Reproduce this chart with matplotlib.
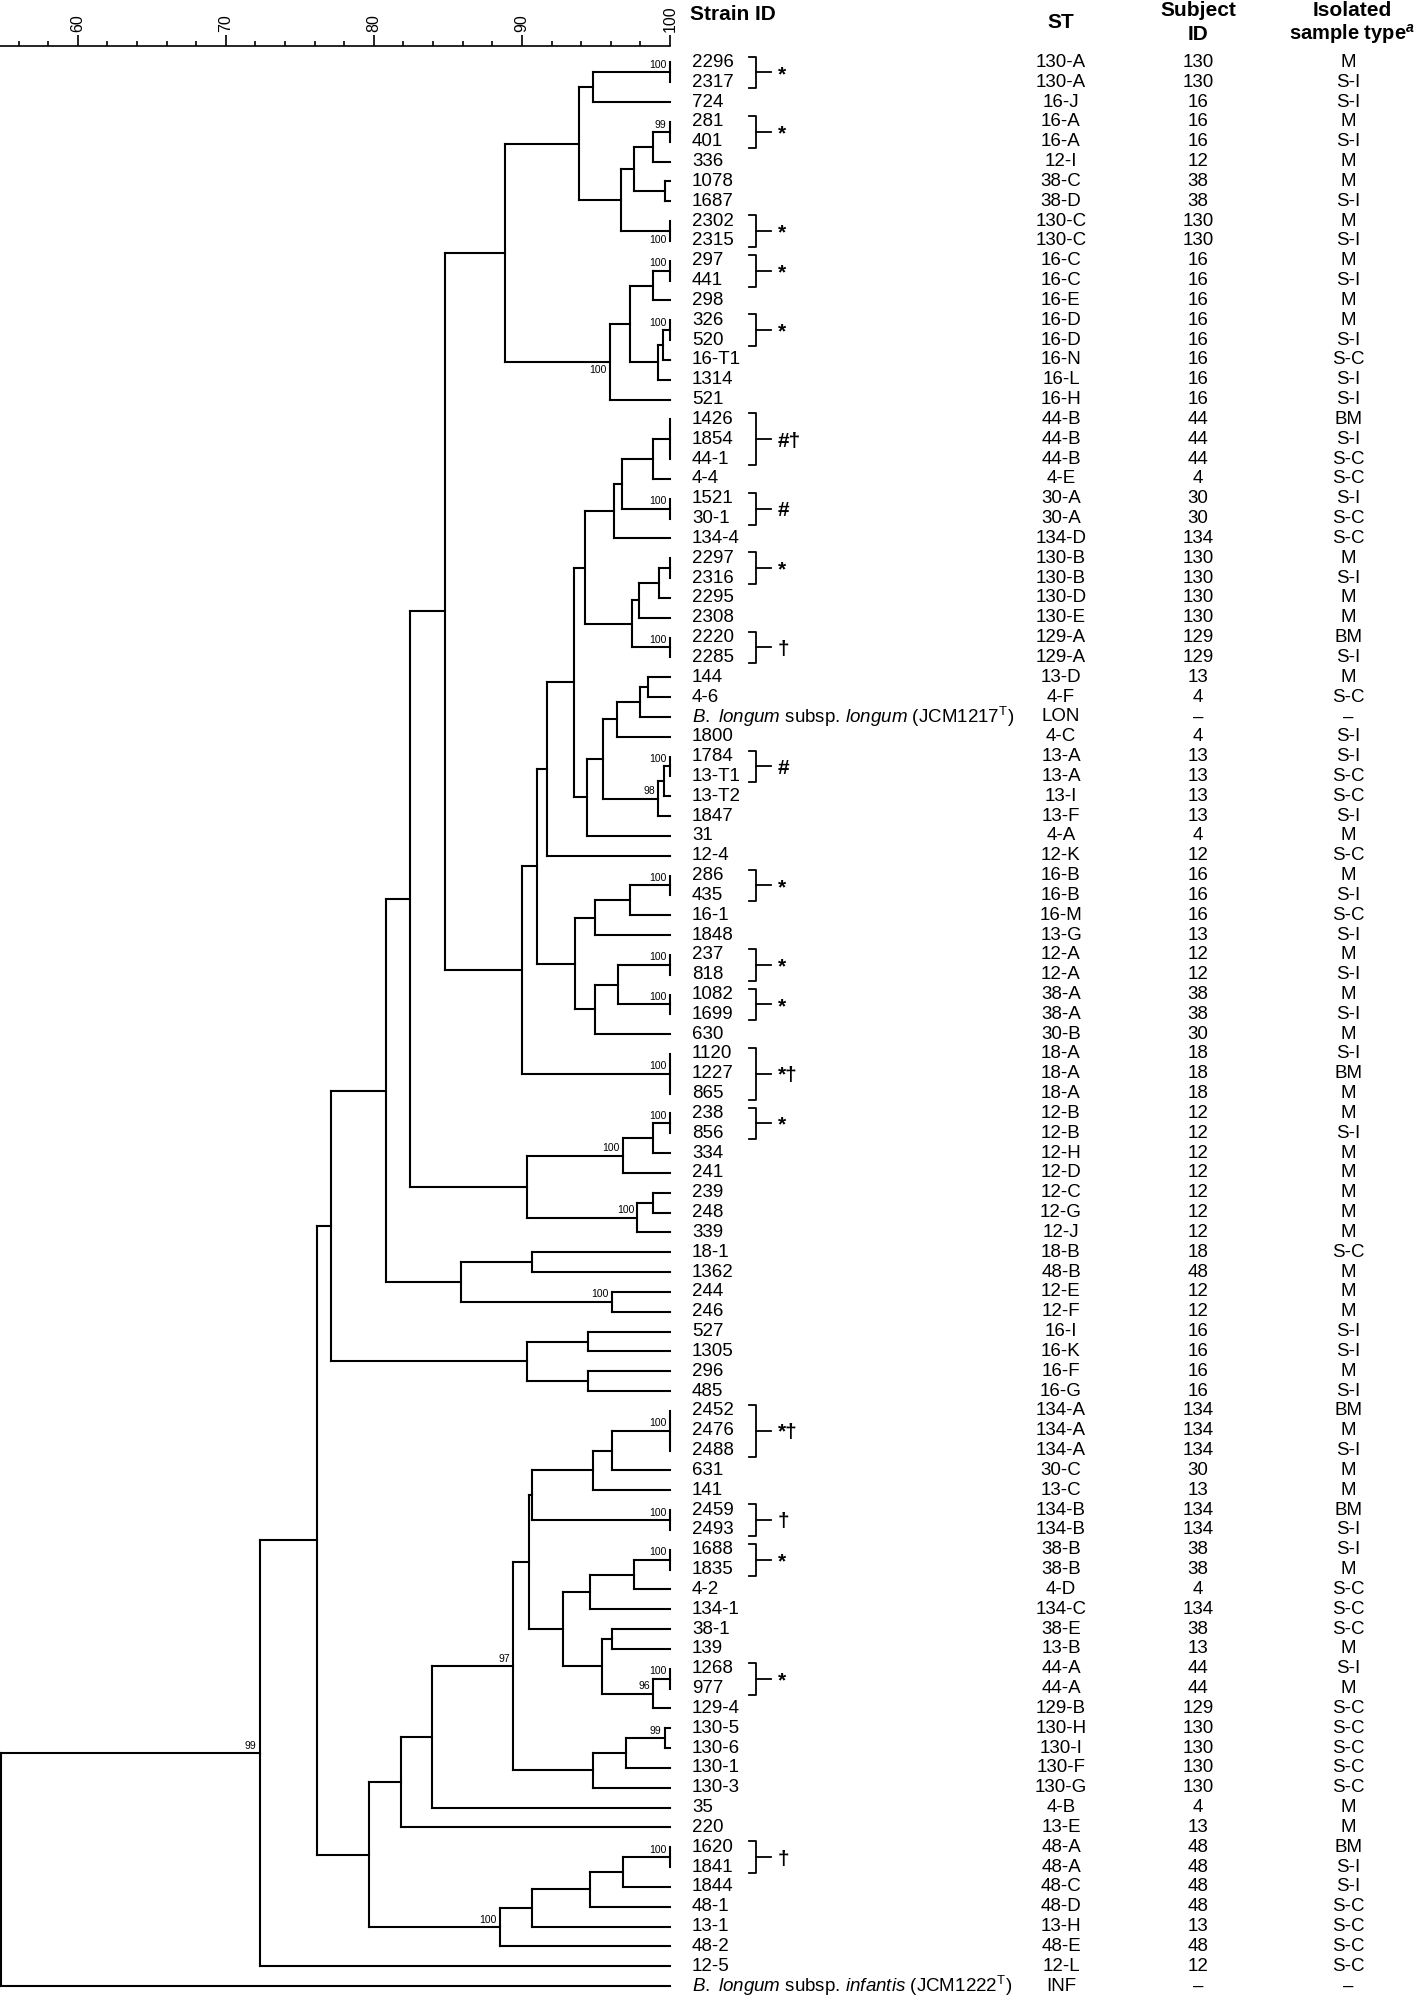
import matplotlib
matplotlib.use("Agg")
import matplotlib.pyplot as plt
import matplotlib.transforms as mtransforms

plt.rcParams['font.family'] = ['Liberation Sans Narrow', 'Liberation Sans', 'DejaVu Sans']
plt.rcParams['mathtext.fontset'] = 'custom'
plt.rcParams['mathtext.rm'] = 'Liberation Sans'
plt.rcParams['mathtext.it'] = 'Liberation Sans:italic'
plt.rcParams['mathtext.bf'] = 'Liberation Sans:bold:italic'

# table columns, top to bottom
strain_ids = ['2296', '2317', '724', '281', '401', '336', '1078', '1687', '2302', '2315',
              '297', '441', '298', '326', '520', '16-T1', '1314', '521', '1426', '1854',
              '44-1', '4-4', '1521', '30-1', '134-4', '2297', '2316', '2295', '2308', '2220',
              '2285', '144', '4-6', 'JCM1217', '1800', '1784', '13-T1', '13-T2', '1847', '31',
              '12-4', '286', '435', '16-1', '1848', '237', '818', '1082', '1699', '630',
              '1120', '1227', '865', '238', '856', '334', '241', '239', '248', '339',
              '18-1', '1362', '244', '246', '527', '1305', '296', '485', '2452', '2476',
              '2488', '631', '141', '2459', '2493', '1688', '1835', '4-2', '134-1', '38-1',
              '139', '1268', '977', '129-4', '130-5', '130-6', '130-1', '130-3', '35', '220',
              '1620', '1841', '1844', '48-1', '13-1', '48-2', '12-5', 'JCM1222']
st_types = ['130-A', '130-A', '16-J', '16-A', '16-A', '12-I', '38-C', '38-D', '130-C', '130-C',
            '16-C', '16-C', '16-E', '16-D', '16-D', '16-N', '16-L', '16-H', '44-B', '44-B',
            '44-B', '4-E', '30-A', '30-A', '134-D', '130-B', '130-B', '130-D', '130-E', '129-A',
            '129-A', '13-D', '4-F', 'LON', '4-C', '13-A', '13-A', '13-I', '13-F', '4-A',
            '12-K', '16-B', '16-B', '16-M', '13-G', '12-A', '12-A', '38-A', '38-A', '30-B',
            '18-A', '18-A', '18-A', '12-B', '12-B', '12-H', '12-D', '12-C', '12-G', '12-J',
            '18-B', '48-B', '12-E', '12-F', '16-I', '16-K', '16-F', '16-G', '134-A', '134-A',
            '134-A', '30-C', '13-C', '134-B', '134-B', '38-B', '38-B', '4-D', '134-C', '38-E',
            '13-B', '44-A', '44-A', '129-B', '130-H', '130-I', '130-F', '130-G', '4-B', '13-E',
            '48-A', '48-A', '48-C', '48-D', '13-H', '48-E', '12-L', 'INF']
subject_ids = ['130', '130', '16', '16', '16', '12', '38', '38', '130', '130',
               '16', '16', '16', '16', '16', '16', '16', '16', '44', '44',
               '44', '4', '30', '30', '134', '130', '130', '130', '130', '129',
               '129', '13', '4', '–', '4', '13', '13', '13', '13', '4',
               '12', '16', '16', '16', '13', '12', '12', '38', '38', '30',
               '18', '18', '18', '12', '12', '12', '12', '12', '12', '12',
               '18', '48', '12', '12', '16', '16', '16', '16', '134', '134',
               '134', '30', '13', '134', '134', '38', '38', '4', '134', '38',
               '13', '44', '44', '129', '130', '130', '130', '130', '4', '13',
               '48', '48', '48', '48', '13', '48', '12', '–']
sample_types = ['M', 'S-I', 'S-I', 'M', 'S-I', 'M', 'M', 'S-I', 'M', 'S-I',
                'M', 'S-I', 'M', 'M', 'S-I', 'S-C', 'S-I', 'S-I', 'BM', 'S-I',
                'S-C', 'S-C', 'S-I', 'S-C', 'S-C', 'M', 'S-I', 'M', 'M', 'BM',
                'S-I', 'M', 'S-C', '–', 'S-I', 'S-I', 'S-C', 'S-C', 'S-I', 'M',
                'S-C', 'M', 'S-I', 'S-C', 'S-I', 'M', 'S-I', 'M', 'S-I', 'M',
                'S-I', 'BM', 'M', 'M', 'S-I', 'M', 'M', 'M', 'M', 'M',
                'S-C', 'M', 'M', 'M', 'S-I', 'S-I', 'M', 'S-I', 'BM', 'M',
                'S-I', 'M', 'M', 'BM', 'S-I', 'S-I', 'M', 'S-C', 'S-C', 'S-C',
                'M', 'S-I', 'M', 'S-C', 'S-C', 'S-C', 'S-C', 'S-C', 'M', 'M',
                'BM', 'S-I', 'S-I', 'S-C', 'S-C', 'S-C', 'S-C', '–']
type_strain_labels = {
    'JCM1217': r'$\mathit{B.\ longum}$ subsp. $\mathit{longum}$ (JCM1217$^{\mathrm{T}}$)',
    'JCM1222': r'$\mathit{B.\ longum}$ subsp. $\mathit{infantis}$ (JCM1222$^{\mathrm{T}}$)',
}

# clonal groups marked right of the strain IDs: (first, last, mark)
clone_groups = [('2296', '2317', '*'), ('281', '401', '*'), ('2302', '2315', '*'),
                ('297', '441', '*'), ('326', '520', '*'), ('1426', '44-1', '#†'),
                ('1521', '30-1', '#'), ('2297', '2316', '*'), ('2220', '2285', '†'),
                ('1784', '13-T1', '#'), ('286', '435', '*'), ('237', '818', '*'),
                ('1082', '1699', '*'), ('1120', '865', '*†'), ('238', '856', '*'),
                ('2452', '2488', '*†'), ('2459', '2493', '†'), ('1688', '1835', '*'),
                ('1268', '977', '*'), ('1620', '1841', '†')]


def N(sim, *children, bs=None, pos='above'):
    return {'sim': sim, 'children': list(children), 'bs': bs, 'pos': pos}


# similarity (%) of each cluster node, bootstrap values where shown
top_a = N(93.87,
          N(94.82, N(100, '2296', '2317', bs=100), '724'),
          N(96.7, N(97.6, N(98.85, N(100, '281', '401', bs=99), '336'), N(99.64, '1078', '1687')),
            N(100, '2302', '2315', bs=100, pos='below')))
top_b = N(95.95,
          N(97.3, N(98.85, N(100, '297', '441', bs=100), '298'),
            N(99.2, N(99.55, N(100, '326', '520', bs=100), '16-T1'), '1314')),
          '521', bs=100, pos='below')
grp_44 = N(96.2, N(96.74, N(98.85, N(100, '1426', '1854', '44-1'), '4-4'),
                  N(100, '1521', '30-1', bs=100)), '134-4')
grp_130 = N(97.4, N(97.9, N(99.26, N(100, '2297', '2316'), '2295'), '2308'),
            N(100, '2220', '2285', bs=100))
grp_13 = N(95.45, N(96.4, N(98.0, N(98.5, '144', '4-6'), 'JCM1217'), '1800'),
           N(99.2, N(99.6, N(100, '1784', '13-T1', bs=100), '13-T2'), '1847', bs=98))
grp_16 = N(93.6,
           N(94.93, N(97.3, N(100, '286', '435', bs=100), '16-1'), '1848'),
           N(94.93, N(96.46, N(100, '237', '818', bs=100), N(100, '1082', '1699', bs=100)), '630'))
middle = N(90.03,
           N(91.03, N(91.7, N(93.55, N(94.26, grp_44, grp_130), N(94.4, grp_13, '31')), '12-4'), grp_16),
           N(100, '1120', '1227', '865', bs=100))
grp_12 = N(90.37, N(96.8, N(98.85, N(100, '238', '856', bs=100), '334'), '241', bs=100),
           N(97.8, N(98.85, '239', '248'), '339', bs=100))
grp_18 = N(85.9, N(90.7, '18-1', '1362'), N(96.05, '244', '246', bs=100))
grp_16b = N(90.37, N(94.44, '527', '1305'), N(94.44, '296', '485'))
upper = N(77.13, N(80.84, N(82.43, N(84.8, N(88.83, top_a, top_b), middle), grp_12), grp_18), grp_16b)

grp_134 = N(90.7, N(94.82, N(96.05, N(100, '2452', '2476', '2488', bs=100), '631'), '141'),
            N(100, '2459', '2493', bs=100))
grp_38 = N(92.8, N(94.57, N(97.6, N(100, '1688', '1835', bs=100), '4-2'), '134-1'),
           N(95.4, N(96.05, '38-1', '139'), N(98.85, N(100, '1268', '977', bs=100), '129-4', bs=96)))
grp_130b = N(94.82, N(97.0, N(99.64, '130-5', '130-6', bs=99), '130-1'), '130-3')
grp_48 = N(88.5, N(90.65, N(94.57, N(96.8, N(100, '1620', '1841', bs=100), '1844'), '48-1'), '13-1'),
           '48-2', bs=100)
lower = N(79.66, N(81.8, N(83.95, N(89.4, N(90.45, grp_134, grp_38), grp_130b, bs=97), '35'), '220'),
          grp_48)
tree = N(54.8, N(72.3, N(76.18, upper, lower), '12-5', bs=99), 'JCM1222')

# ---- figure layout (pixels of the 1418x2000 output) ----
W, H = 1418, 2000
row0, drow = 62.5, 19.83
x_axis_left, x_100 = 54.75, 100
fig = plt.figure(figsize=(W / 100, H / 100), dpi=100)
axis_y = 45.7
ax = fig.add_axes([0, 0, 670 / W, 1 - axis_y / H])
ax.set_xlim(x_axis_left, x_100)
ax.set_ylim((H - row0) / drow, (axis_y - row0) / drow)

rows = {s: i for i, s in enumerate(strain_ids)}
LW = 1.5


def draw(node):
    if isinstance(node, str):
        return rows[node], 100
    sim = node['sim']
    ys = []
    for child in node['children']:
        cy, cx = draw(child)
        if cx > sim:
            ax.plot([sim, cx], [cy, cy], color='black', lw=LW,
                    solid_capstyle='projecting', clip_on=False)
        ys.append(cy)
    ax.plot([sim, sim], [min(ys), max(ys)], color='black', lw=LW,
            solid_capstyle='projecting', clip_on=False)
    y = (min(ys) + max(ys)) / 2
    if node['bs'] is not None:
        if node['pos'] == 'below':
            ax.text(sim - 0.22, y + 0.18, str(node['bs']), ha='right', va='top',
                    fontsize=7.5, family='Liberation Sans')
        else:
            ax.text(sim - 0.22, y - 0.12, str(node['bs']), ha='right', va='bottom',
                    fontsize=7.5, family='Liberation Sans')
    return y, sim


draw(tree)

# scale bar on top
for side in ['bottom', 'left', 'right']:
    ax.spines[side].set_visible(False)
ax.spines['top'].set_linewidth(1.2)
ax.xaxis.tick_top()
ax.set_xticks([60, 70, 80, 90, 100])
ax.set_xticks(range(56, 100, 2), minor=True)
ax.set_xticklabels(['60', '70', '80', '90', '100'], rotation=90, family='Liberation Sans',
                   fontsize=11.5)
ax.tick_params(axis='x', which='major', direction='out', length=8, width=1.2, pad=2)
ax.tick_params(axis='x', which='minor', direction='out', length=3.5, width=1.2)
ax.set_yticks([])

# ---- text columns ----
tr = mtransforms.blended_transform_factory(fig.transFigure, ax.transData)
x_strain, x_st, x_subj, x_type = 692 / W, 1061 / W, 1198 / W, 1348 / W
fs = 13.5
for i, sid in enumerate(strain_ids):
    ax.text(x_strain, i, type_strain_labels.get(sid, sid), transform=tr, ha='left',
            va='center', fontsize=fs)
    ax.text(x_st, i, st_types[i], transform=tr, ha='center', va='center', fontsize=fs)
    ax.text(x_subj, i, subject_ids[i], transform=tr, ha='center', va='center', fontsize=fs)
    ax.text(x_type, i, sample_types[i], transform=tr, ha='center', va='center', fontsize=fs)

# clonal brackets
bx0, bx1, bx2, bsym = 749 / W, 756 / W, 771 / W, 778 / W
for first, last, mark in clone_groups:
    y0, y1 = rows[first] - 0.3, rows[last] + 0.3
    ym = (y0 + y1) / 2
    ax.plot([bx0, bx1, bx1, bx0], [y0, y0, y1, y1], color='black', lw=1.3,
            transform=tr, clip_on=False)
    ax.plot([bx1, bx2], [ym, ym], color='black', lw=1.3, transform=tr, clip_on=False)
    ax.text(bsym, ym + 0.1, mark, transform=tr, ha='left', va='center', fontsize=15,
            fontweight='bold')

# headers
hfs = 15
fig.text(690 / W, 1 - 15 / H, 'Strain ID', ha='left', va='center', fontsize=hfs, fontweight='bold')
fig.text(x_st, 1 - 23 / H, 'ST', ha='center', va='center', fontsize=hfs, fontweight='bold')
fig.text(x_subj, 1 - 11 / H, 'Subject', ha='center', va='center', fontsize=hfs, fontweight='bold')
fig.text(x_subj, 1 - 34 / H, 'ID', ha='center', va='center', fontsize=hfs, fontweight='bold')
fig.text(1352 / W, 1 - 11 / H, 'Isolated', ha='center', va='center', fontsize=hfs, fontweight='bold')
fig.text(1352 / W, 1 - 34 / H, r'sample type$^{\mathbf{a}}$', ha='center', va='center',
         fontsize=14.5, fontweight='bold')

fig.savefig('out.png', dpi=100)
